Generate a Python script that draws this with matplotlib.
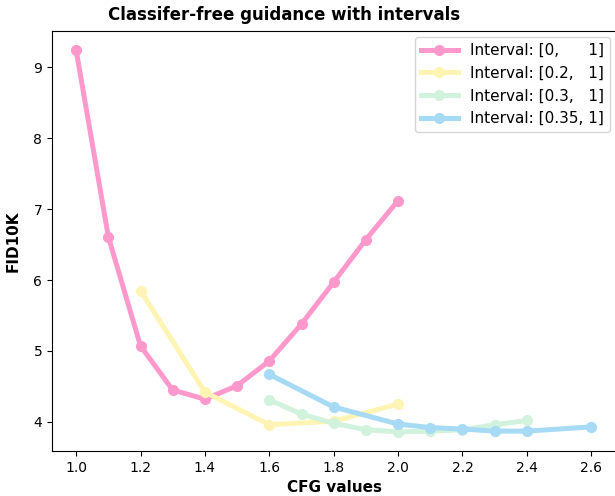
import matplotlib
matplotlib.use("Agg")
import matplotlib.pyplot as plt

x_pink = [1.0, 1.1, 1.2, 1.3, 1.4, 1.5, 1.6, 1.7, 1.8, 1.9, 2.0]
y_pink = [9.24, 6.61, 5.07, 4.45, 4.32, 4.51, 4.86, 5.38, 5.97, 6.57, 7.12]

x_yellow = [1.2, 1.4, 1.6, 1.8, 2.0]
y_yellow = [5.85, 4.42, 3.96, 4.01, 4.25]

x_green = [1.6, 1.7, 1.8, 1.9, 2.0, 2.1, 2.2, 2.3, 2.4]
y_green = [4.31, 4.11, 3.98, 3.89, 3.86, 3.87, 3.89, 3.96, 4.02]

x_blue = [1.6, 1.8, 2.0, 2.1, 2.2, 2.3, 2.4, 2.6]
y_blue = [4.67, 4.21, 3.97, 3.92, 3.90, 3.87, 3.87, 3.93]

labels = ["Interval: [0,      1]", "Interval: [0.2,   1]",
          "Interval: [0.3,   1]", "Interval: [0.35, 1]"]
colors = ["#ff99cc", "#fff4b3", "#d1f2dc", "#a6daf5"]

fig = plt.figure(figsize=(6.15, 4.96), dpi=100)
ax = fig.add_axes([52/615, 45/496, 565/615, 420/496])

series = [(x_pink, y_pink), (x_yellow, y_yellow), (x_green, y_green), (x_blue, y_blue)]
for (xs, ys), c, lab in zip(series, colors, labels):
    ax.plot(xs, ys, color=c, linewidth=3.6, marker="o", markersize=7, label=lab)

ax.set_xlim(0.925, 2.68)
ax.set_ylim(3.59, 9.51)
ax.set_xticks([1.0, 1.2, 1.4, 1.6, 1.8, 2.0, 2.2, 2.4, 2.6])
ax.set_xlabel("CFG values", fontweight="bold", fontsize=11)
ax.set_ylabel("FID10K", fontweight="bold", fontsize=11, labelpad=9)
fig.text(284/615, 1 - 15/496, "Classifer-free guidance with intervals",
         ha="center", va="center", fontweight="bold", fontsize=12)
ax.legend(loc="upper right", bbox_to_anchor=(558/565, 1 - 6/420), borderaxespad=0,
          fontsize=11, handlelength=2.4)
fig.savefig("out.png", dpi=100)
